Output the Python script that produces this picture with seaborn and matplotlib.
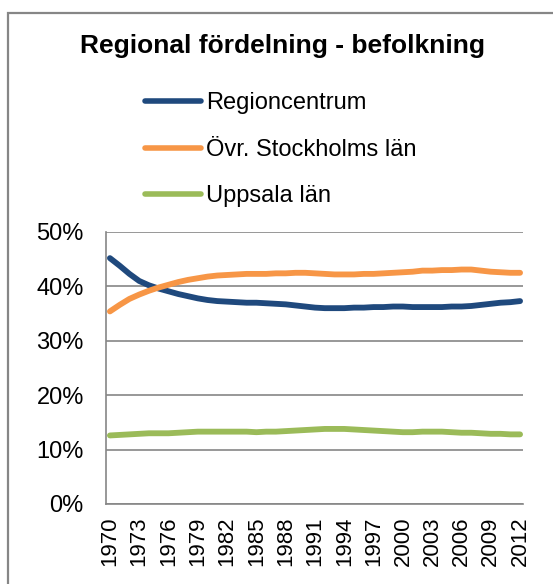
import numpy as np
import pandas as pd
import seaborn as sns
import matplotlib.pyplot as plt
from matplotlib.patches import Rectangle
from matplotlib.ticker import PercentFormatter

# Years on the category axis
years = list(range(1970, 2013))

# Share of population (%)
regioncentrum = [45.2, 43.8, 42.3, 41.0, 40.2, 39.6, 39.1, 38.6, 38.2, 37.8,
                 37.5, 37.3, 37.2, 37.1, 37.0, 37.0, 36.9, 36.8, 36.7, 36.5,
                 36.3, 36.1, 36.0, 36.0, 36.0, 36.1, 36.1, 36.2, 36.2, 36.3,
                 36.3, 36.2, 36.2, 36.2, 36.2, 36.3, 36.3, 36.4, 36.6, 36.8,
                 37.0, 37.1, 37.3]
ovr_stockholm = [35.4, 36.6, 37.7, 38.5, 39.2, 39.8, 40.3, 40.8, 41.2, 41.5,
                 41.8, 42.0, 42.1, 42.2, 42.3, 42.3, 42.3, 42.4, 42.4, 42.5,
                 42.5, 42.4, 42.3, 42.2, 42.2, 42.2, 42.3, 42.3, 42.4, 42.5,
                 42.6, 42.7, 42.9, 42.9, 43.0, 43.0, 43.1, 43.1, 42.9, 42.7,
                 42.6, 42.5, 42.5]
uppsala = [12.6, 12.7, 12.8, 12.9, 13.0, 13.0, 13.0, 13.1, 13.2, 13.3,
           13.3, 13.3, 13.3, 13.3, 13.3, 13.2, 13.3, 13.3, 13.4, 13.5,
           13.6, 13.7, 13.8, 13.8, 13.8, 13.7, 13.6, 13.5, 13.4, 13.3,
           13.2, 13.2, 13.3, 13.3, 13.3, 13.2, 13.1, 13.1, 13.0, 12.9,
           12.9, 12.8, 12.8]

series_names = ["Regioncentrum", "Övr. Stockholms län", "Uppsala län"]
colors = ["#1F497D", "#F79646", "#9BBB59"]

df = pd.DataFrame({"year": years * 3,
                   "share": regioncentrum + ovr_stockholm + uppsala,
                   "series": np.repeat(series_names, len(years))})

sns.set_style("white")
plt.rcParams['font.family'] = ['Liberation Sans', 'DejaVu Sans']
plt.rcParams['text.color'] = 'black'
plt.rcParams['xtick.color'] = 'black'
plt.rcParams['ytick.color'] = 'black'

fig = plt.figure(figsize=(5.53, 5.84), dpi=100)
ax = fig.add_axes([106 / 553, 1 - 504 / 584, 417 / 553, 272 / 584])

sns.lineplot(data=df, x="year", y="share", hue="series", palette=colors,
             linewidth=4.2, ax=ax, legend=True)
for line in ax.get_lines():
    line.set_solid_capstyle("round")

ax.set_xlim(1969.6, 2012.3)
ax.set_ylim(0, 50)
ax.set_xticks(years[::3])
ax.set_xticklabels([str(y) for y in years[::3]], rotation=90, fontsize=16)
ax.set_yticks(range(0, 51, 10))
ax.yaxis.set_major_formatter(PercentFormatter(decimals=0))
ax.tick_params(axis="y", labelsize=17, length=0, pad=16)
ax.tick_params(axis="x", length=0, pad=9)
ax.set_xlabel("")
ax.set_ylabel("")
ax.grid(axis="y", color="#868686", linewidth=1.2)
ax.set_axisbelow(True)
for side in ["top", "right"]:
    ax.spines[side].set_visible(False)
for side in ["left", "bottom"]:
    ax.spines[side].set_color("#868686")
    ax.spines[side].set_linewidth(1.2)

handles, labels = ax.get_legend_handles_labels()
ax.get_legend().remove()
leg = fig.legend(handles, labels, loc="upper left",
                 bbox_to_anchor=(124 / 553, 1 - 71 / 584), frameon=False,
                 fontsize=17, handlelength=2.37, handletextpad=0.2,
                 labelspacing=1.04)
for h in leg.get_lines():
    h.set_linewidth(4)
    h.set_solid_capstyle("round")

fig.text(282.5 / 553, 1 - 53 / 584, "Regional fördelning - befolkning",
         ha="center", va="baseline", fontsize=19, fontweight="bold")

# chart border (right and bottom edges fall outside the image)
fig.patches.append(Rectangle((8 / 553, -0.05), 1.2, 1 - 13 / 584 + 0.05,
                             transform=fig.transFigure, fill=False,
                             edgecolor="#868686", linewidth=1.6))

fig.savefig("out.png", dpi=100)
